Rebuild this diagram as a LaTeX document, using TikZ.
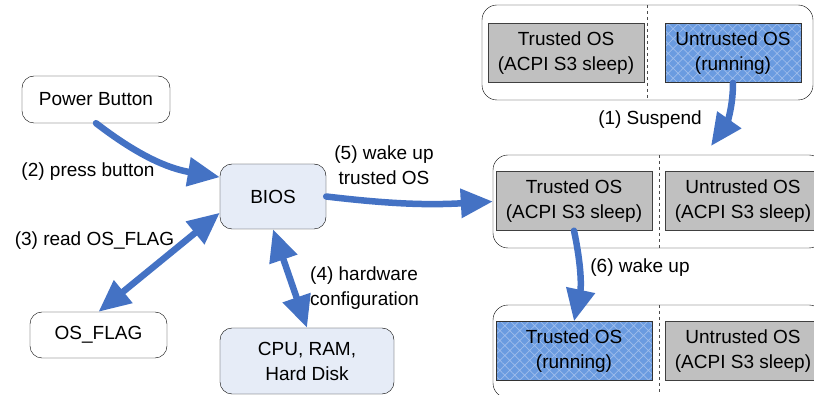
\documentclass[tikz,border=0pt]{standalone}
\usepackage{fontspec}
\setmainfont{Liberation Sans}
\usetikzlibrary{arrows.meta,positioning,calc,patterns.meta}
\definecolor{flowblue}{HTML}{4472C4}
\definecolor{hwfill}{HTML}{E6ECF7}
\definecolor{sleepgray}{HTML}{C0C0C0}
\definecolor{runblue}{HTML}{6A9BE0}
\definecolor{hatchblue}{HTML}{9EBDEB}
\tikzset{
  hwbox/.style={
    draw=black,
    rounded corners=12pt,
    thin,
    align=center,
    inner sep=1pt
  },
  sleepbox/.style={
    draw=black!75,
    fill=sleepgray,
    thin,
    minimum width=156pt,
    minimum height=59pt,
    align=center,
    inner sep=1pt
  },
  runbox/.style={
    sleepbox,
    draw=black!80,
    preaction={fill=runblue},
    pattern={Hatch[angle=45,distance=7pt,line width=0.7pt]},
    pattern color=hatchblue
  },
  panel/.style={draw=black, thin, rounded corners=15pt, minimum width=331pt},
  divider/.style={draw=black!70, dashed, thin},
  flow/.style={draw=flowblue, line width=6.5pt, line cap=round,
    -{Triangle[length=32pt,width=28pt]}},
  flowboth/.style={flow, {Triangle[length=32pt,width=28pt]}-{Triangle[length=32pt,width=28pt]}},
  lbl/.style={inner sep=0pt, align=center}
}
\newcommand{\divider}[2]{
  \draw[divider] (#2.north -| #1,0) -- (#2.south -| #1,0);
}

\begin{document}
\begin{tikzpicture}[x=1pt, y=-1pt, font=\fontsize{19}{25}\selectfont]
  \useasboundingbox (0,0) rectangle (814,395);
  \clip (0,0) rectangle (814,395);

  % -------------------------------------------------------------------
  % platform side
  % -------------------------------------------------------------------
  \node[hwbox, minimum width=148pt, minimum height=47pt] (pwr) at (96,99.5) {Power Button};
  \node[hwbox, fill=hwfill, minimum width=106pt, minimum height=65pt] (bios) at (273,196.5) {BIOS};
  \node[hwbox, minimum width=137pt, minimum height=46pt] (flag) at (98.5,335) {OS\_FLAG};
  \node[hwbox, fill=hwfill, minimum width=174pt, minimum height=66pt] (cpu) at (307,361) {CPU, RAM,\\Hard Disk};

  % -------------------------------------------------------------------
  % OS states
  % -------------------------------------------------------------------
  \node[panel, minimum height=95pt] (top) at (647.5,52.5) {};
  \node[sleepbox] (toptr) at (566,53) {Trusted OS\\(ACPI S3 sleep)};
  \node[runbox, minimum width=136pt] (topun) at (733,53) {Untrusted OS\\(running)};
  \divider{647}{top}

  \node[panel, minimum height=93pt] (mid) at (658.5,201.5) {};
  \node[sleepbox] (midtr) at (574,201) {Trusted OS\\(ACPI S3 sleep)};
  \node[sleepbox] (midun) at (743,201) {Untrusted OS\\(ACPI S3 sleep)};
  \divider{659}{mid}

  \node[panel, minimum height=93pt] (bot) at (658.5,351.5) {};
  \node[runbox] (bottr) at (574,351) {Trusted OS\\(running)};
  \node[sleepbox] (botun) at (743,351) {Untrusted OS\\(ACPI S3 sleep)};
  \divider{659}{bot}

  % -------------------------------------------------------------------
  % flows
  % -------------------------------------------------------------------
  \coordinate (susp) at (711,146);
  \draw[flow] (pwr.south) to[bend right=14] (bios.160);
  \draw[flowboth] (bios.197) -- (flag.north);
  \draw[flowboth] (bios.south) -- (cpu.north);
  \draw[flow] (bios.east) to[bend right=5] (mid.west);
  \draw[flow] (topun.south) to[out=-90, in=55] (susp);
  \draw[flow] (midtr.south) to[bend left=12] (bottr.north);

  \node[lbl] (l2) at (88,172) {(2) press button};
  \node[lbl] (l3) at (94.5,241) {(3) read OS\_FLAG};
  \node[lbl, align=left, anchor=west] (l4) at (310,288) {(4) hardware\\configuration};
  \node[lbl] (l5) at (384,165) {(5) wake up\\trusted OS};
  \node[lbl] (l1) at (650,120) {(1) Suspend};
  \node[lbl] (l6) at (640,268) {(6) wake up};

\end{tikzpicture}
\end{document}
